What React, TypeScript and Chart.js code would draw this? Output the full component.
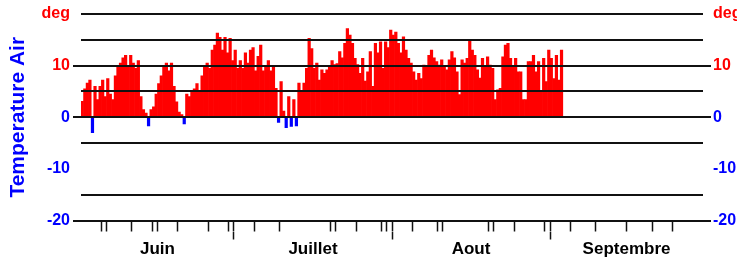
import React, { useEffect, useRef } from 'react';
import { Chart, registerables } from 'chart.js';

Chart.register(...registerables);

// ---- data (half-day steps starting 1 June) ----
const temperatures: number[] = [
  3.1, 5.5, 6.6, 7.2, -3, 6, 3.4, 6, 7.2, 4, 7.5, 4.5, 3.4, 8, 10, 10.5, 11.5, 12, 10, 12,
  10.5, 9.5, 11, 4, 1.5, 0.8, -1.7, 1.5, 2, 4.5, 6.5, 8, 10, 10.5, 9, 10.5, 6, 3, 1, 0.5,
  -1.3, 4.5, 4, 5, 5.5, 6.5, 5, 8, 10, 10.5, 9.5, 13, 14, 16.3, 15.5, 13, 15.5, 12.5, 15.3, 11,
  13, 9.5, 11, 9.5, 12.5, 10.5, 13, 13.5, 9, 11.8, 14, 9, 10, 11, 9, 10, 5.6, -1, 6.9, 1.2,
  -2, 4, -1.8, 3.4, -1.7, 6.6, 5, 6.6, 9.5, 15.3, 13.3, 9.5, 10.5, 7.2, 9.2, 8.5, 9.2, 10, 11, 10.2,
  10.4, 12.7, 11.5, 14.3, 17.2, 15.9, 14.3, 11.4, 10.2, 8.5, 11.4, 7, 8.8, 12.7, 6, 14.3, 12.5, 14.6, 9.5, 14.6,
  13.5, 16.9, 15.9, 16.5, 14.3, 12.5, 15.6, 13, 11.4, 10.5, 8.8, 7.2, 8.5, 7.5, 10.1, 9.8, 12, 13, 11.5, 10.8,
  10.1, 11.1, 10, 9.2, 11.1, 12.7, 11.5, 8.8, 4.4, 11.1, 10.5, 11.4, 15, 13, 12, 9.2, 7.6, 11.4, 9.8, 11.7,
  10.1, 9.5, 3.4, 5.3, 5.6, 11.7, 14, 14.3, 11.4, 9.8, 11.4, 8.8, 8.8, 3.4, 3.4, 10.8, 10.8, 12, 8.8, 10.8,
  5, 11.4, 6.9, 13, 11.4, 7.5, 12, 7.2, 13,
];

const totalDays = 122; // 1 June -> 30 September
const halfDaySlots = Array.from({ length: totalDays * 2 }, (_, k) => `J${Math.floor(k / 2) + 1}${k % 2 ? 'pm' : 'am'}`);

const monthNames = ['Juin', 'Juillet', 'Aout', 'Septembre'];
const monthMidDays = [15, 45.5, 76.5, 107];
const monthStartDays = [30, 61, 92];
const minorTickDays = [4, 5, 10, 14, 15, 19, 25, 29, 34, 39, 49, 50, 54, 59, 60, 65, 70, 71, 80, 81, 85, 91, 96, 101, 107, 112, 116];

const yLabelValues = [20, 10, 0, -10, -20];
const yLabelTexts = ['deg', '10', '0', '-10', '-20'];
const yTickMarkValues = [10, 0, -20];
const yHiddenGridValues = [-10];

const RED = '#ff0000';
const BLUE = '#0000ff';
const LINE = '#111111';
const SANS = "'Liberation Sans', Arial, sans-serif";

function yLabel(v: number): string {
  const i = yLabelValues.indexOf(v);
  return i >= 0 ? yLabelTexts[i] : '';
}

function yAxis(position: 'left' | 'right') {
  const left = position === 'left';
  return {
    type: 'linear',
    position,
    min: -20,
    max: 20,
    ticks: {
      stepSize: 5,
      autoSkip: false,
      padding: left ? 3 : 2,
      font: { family: SANS, size: 16, weight: 'bold' },
      color: (ctx: any) => (ctx.tick && ctx.tick.value > 0 ? RED : BLUE),
      callback: (v: any) => yLabel(Number(v)),
    },
    grid: {
      z: 1,
      drawOnChartArea: left,
      color: (ctx: any) => (ctx.tick && yHiddenGridValues.includes(ctx.tick.value) ? 'rgba(0,0,0,0)' : LINE),
      lineWidth: 2,
      tickLength: 8,
      tickWidth: 2,
      tickColor: (ctx: any) => (ctx.tick && yTickMarkValues.includes(ctx.tick.value) ? LINE : 'rgba(0,0,0,0)'),
    },
    border: { display: false },
    title: left
      ? {
          display: true,
          text: 'Temperature Air',
          color: BLUE,
          font: { family: SANS, size: 21, weight: 'bold' },
          padding: { top: 6, bottom: 0 },
        }
      : { display: false },
    afterFit: (s: any) => {
      s.width = left ? 81 : 34;
    },
  };
}

function dayAxis(weight: number, tickDays: number[], extra: any) {
  return {
    type: 'linear',
    position: 'bottom',
    min: 0,
    max: totalDays,
    offset: false,
    weight,
    afterBuildTicks: (s: any) => {
      s.ticks = [...tickDays].sort((a, b) => a - b).map((v) => ({ value: v }));
    },
    border: { display: false },
    ...extra,
  };
}

export default function App() {
  const ref = useRef<HTMLCanvasElement>(null);

  useEffect(() => {
    if (!ref.current) return;
    const chart = new Chart(ref.current, {
      type: 'bar',
      data: {
        labels: halfDaySlots,
        datasets: [
          {
            data: temperatures,
            backgroundColor: (ctx: any) => (ctx.raw < 0 ? BLUE : RED),
            borderWidth: 0,
            barPercentage: 1,
            categoryPercentage: 1,
            xAxisID: 'x',
            yAxisID: 'y',
          },
        ],
      },
      options: {
        responsive: false,
        animation: false,
        layout: { padding: { top: 14, left: 0, right: 0, bottom: 0 } },
        plugins: { legend: { display: false }, tooltip: { enabled: false } },
        scales: {
          x: { type: 'category', display: false, offset: true },
          xt: dayAxis(1, [...minorTickDays, ...monthStartDays], {
            ticks: { display: false },
            grid: { offset: false, drawOnChartArea: false, tickLength: 11, tickWidth: 1.5, tickColor: LINE },
            afterFit: (s: any) => {
              s.height = 11;
            },
          }),
          xm: dayAxis(2, monthStartDays, {
            ticks: { display: false },
            grid: { offset: false, drawOnChartArea: false, tickLength: 8, tickWidth: 1.5, tickColor: LINE },
            afterFit: (s: any) => {
              s.height = 8;
            },
          }),
          xl: dayAxis(3, monthMidDays, {
            ticks: {
              autoSkip: false,
              maxRotation: 0,
              padding: 0,
              color: '#000000',
              font: { family: SANS, size: 17, weight: 'bold' },
              callback: (v: any) => {
                const i = monthMidDays.indexOf(Number(v));
                return i >= 0 ? monthNames[i] : '';
              },
            },
            grid: { offset: false, display: false, drawTicks: false },
            afterFit: (s: any) => {
              s.height = 19.5;
            },
          }),
          y: yAxis('left'),
          y2: yAxis('right'),
        } as any,
      } as any,
    });
    return () => chart.destroy();
  }, []);

  return (
    <div style={{ position: 'absolute', left: 0, top: 0, width: 737, height: 259, background: '#fff' }}>
      <canvas ref={ref} width={737} height={259} style={{ display: 'block' }} />
    </div>
  );
}
